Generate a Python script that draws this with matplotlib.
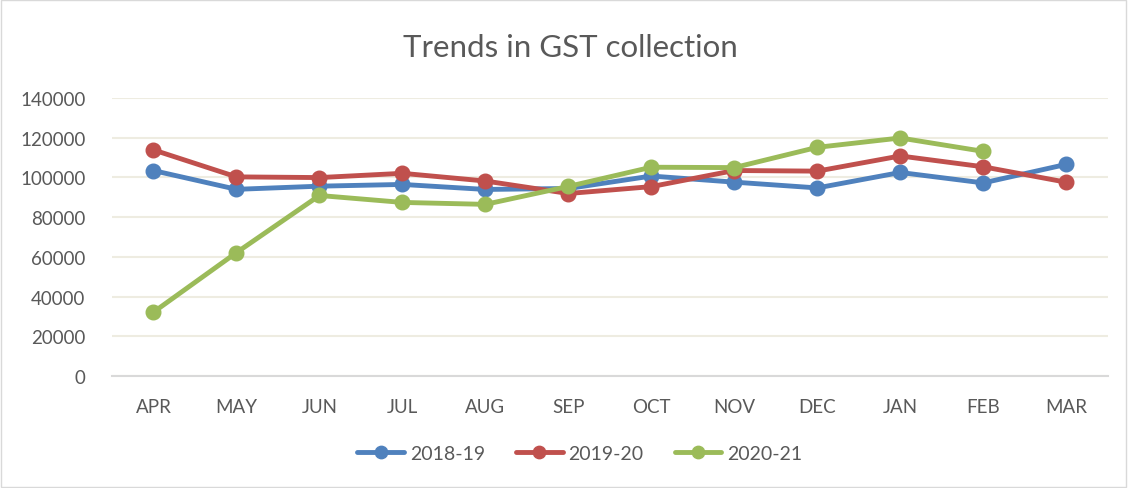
import matplotlib.pyplot as plt
from matplotlib.patches import Rectangle

plt.rcParams['font.family'] = ['Lato', 'DejaVu Sans']

months = ['APR', 'MAY', 'JUN', 'JUL', 'AUG', 'SEP', 'OCT', 'NOV', 'DEC', 'JAN', 'FEB', 'MAR']
gst_2018_19 = [103459, 94016, 95610, 96483, 93960, 94442, 100710, 97637, 94726, 102503, 97247, 106577]
gst_2019_20 = [113865, 100289, 99939, 102083, 98202, 91916, 95380, 103492, 103184, 110828, 105366, 97597]
gst_2020_21 = [32172, 62151, 90917, 87422, 86449, 95480, 105155, 104963, 115174, 119875, 113143]
yticks = [0, 20000, 40000, 60000, 80000, 100000, 120000, 140000]

series = [('2018-19', gst_2018_19, '#4F81BD'),
          ('2019-20', gst_2019_20, '#C0504D'),
          ('2020-21', gst_2020_21, '#9BBB59')]

fig = plt.figure(figsize=(11.28, 4.89), dpi=100)
ax = fig.add_axes([0.0993, 0.229, 0.8827, 0.5685])

for name, vals, col in series:
    ax.plot(range(len(vals)), vals, color=col, lw=3.5, marker='o', ms=10.5,
            solid_capstyle='round', label=name)

ax.set_xlim(-0.5, 11.5)
ax.set_ylim(0, 140000)
ax.set_xticks(range(len(months)))
ax.set_xticklabels(months)
ax.set_yticks(yticks)
ax.set_yticklabels([str(v) for v in yticks])
ax.tick_params(length=0, labelsize=13.5, colors='#595959')
ax.tick_params(axis='x', pad=16)
ax.tick_params(axis='y', pad=19)
ax.grid(axis='y', color='#EEECE1', lw=1.5)
ax.set_axisbelow(True)
for s in ['top', 'left', 'right']:
    ax.spines[s].set_visible(False)
ax.spines['bottom'].set_color('#D9D9D9')
ax.spines['bottom'].set_linewidth(1.5)

fig.text(0.506, 0.902, 'Trends in GST collection', ha='center', va='center',
         fontsize=22.5, color='#595959')

leg = fig.legend(loc='center', bbox_to_anchor=(0.514, 0.07), ncol=3, frameon=False,
                 fontsize=14, labelcolor='#595959', handlelength=2.4,
                 columnspacing=1.6, handletextpad=0.3, markerscale=0.85)

fig.add_artist(Rectangle((0.001, 0.002), 0.997, 0.996, transform=fig.transFigure,
                         fill=False, edgecolor='#D9D9D9', lw=1))

fig.savefig('out.png', dpi=100)
